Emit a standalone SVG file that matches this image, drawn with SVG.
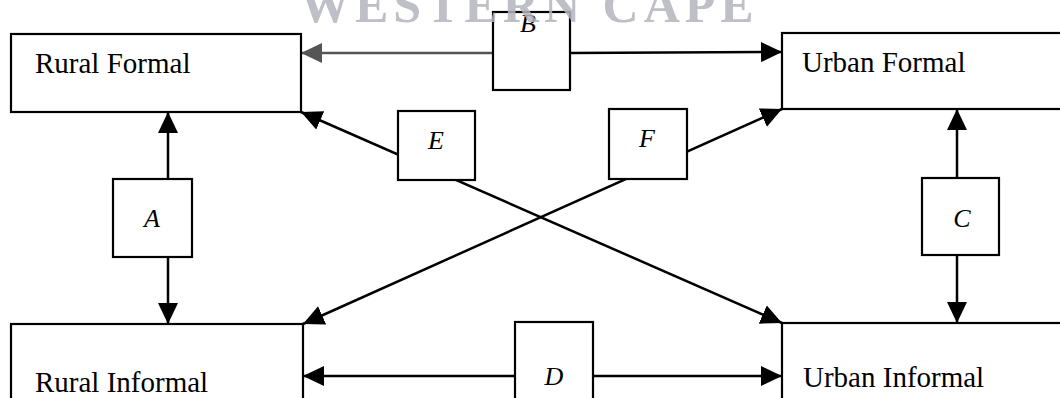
<svg xmlns="http://www.w3.org/2000/svg" width="1060" height="398" viewBox="0 0 1060 398">
  <style>
    .box { fill: #fff; stroke: #000; stroke-width: 2.2; }
    .lbl { fill: #fff; stroke: #000; stroke-width: 2.2; }
    .name { font-family: "Liberation Serif", "Times New Roman", serif; font-size: 29px; fill: #000; }
    .let { font-family: "Liberation Serif", "Times New Roman", serif; font-size: 26px; font-style: italic; fill: #000; text-anchor: middle; }
    .ln { stroke: #000; stroke-width: 2.5; fill: none; }
    .ln.gray { stroke: #555; }
    .wm { font-family: "Liberation Serif", "Times New Roman", serif; font-size: 50px; font-weight: bold; fill: #b4b4be; letter-spacing: 5px; opacity: 0.85; }
  </style>
  <defs>
    <marker id="ah" markerUnits="userSpaceOnUse" markerWidth="22" markerHeight="22" refX="21" refY="10" orient="auto-start-reverse" viewBox="0 0 22 20">
      <path d="M0,0 L21,10 L0,20 z" fill="#000"/>
    </marker>
    <marker id="ahg" markerUnits="userSpaceOnUse" markerWidth="22" markerHeight="22" refX="21" refY="10" orient="auto-start-reverse" viewBox="0 0 22 20">
      <path d="M0,0 L21,10 L0,20 z" fill="#555"/>
    </marker>
  </defs>
  <rect x="0" y="0" width="1060" height="398" fill="#fff"/>

  <g id="connectors">
    <line class="ln gray" x1="494" y1="53" x2="301" y2="53" marker-end="url(#ahg)"/>
    <line class="ln" x1="570" y1="53" x2="782" y2="52" marker-end="url(#ah)"/>
    <line class="ln" x1="168" y1="112" x2="168" y2="324" marker-start="url(#ah)" marker-end="url(#ah)"/>
    <line class="ln" x1="957" y1="109" x2="957" y2="323" marker-start="url(#ah)" marker-end="url(#ah)"/>
    <line class="ln" x1="303" y1="376" x2="782" y2="376" marker-start="url(#ah)" marker-end="url(#ah)"/>
    <line class="ln" x1="301" y1="112" x2="782" y2="323" marker-start="url(#ah)" marker-end="url(#ah)"/>
    <line class="ln" x1="303" y1="324" x2="782" y2="109" marker-start="url(#ah)" marker-end="url(#ah)"/>
  </g>

  <g id="rural-formal">
    <rect class="box" x="11" y="34" width="290" height="78"/>
    <text class="name" x="35" y="73">Rural Formal</text>
  </g>
  <g id="urban-formal">
    <rect class="box" x="782" y="33" width="290" height="76"/>
    <text class="name" x="802" y="72">Urban Formal</text>
  </g>
  <g id="rural-informal">
    <rect class="box" x="11" y="324" width="292" height="90"/>
    <text class="name" x="35" y="392">Rural Informal</text>
  </g>
  <g id="urban-informal">
    <rect class="box" x="782" y="323" width="290" height="90"/>
    <text class="name" x="803" y="387">Urban Informal</text>
  </g>

  <g id="label-a">
    <rect class="lbl" x="113" y="179" width="79" height="78"/>
    <text class="let" x="152" y="227">A</text>
  </g>
  <g id="label-b">
    <rect class="lbl" x="493" y="12" width="77" height="78"/>
    <text class="let" x="528" y="32">B</text>
  </g>
  <g id="label-c">
    <rect class="lbl" x="922" y="178" width="77" height="77"/>
    <text class="let" x="962" y="227">C</text>
  </g>
  <g id="label-d">
    <rect class="lbl" x="515" y="322" width="78" height="90"/>
    <text class="let" x="554" y="385">D</text>
  </g>
  <g id="label-e">
    <rect class="lbl" x="398" y="111" width="77" height="69"/>
    <text class="let" x="436" y="149">E</text>
  </g>
  <g id="label-f">
    <rect class="lbl" x="609" y="109" width="78" height="70"/>
    <text class="let" x="647" y="147">F</text>
  </g>

  <g id="watermark">
    <text class="wm" x="300" y="22">WESTERN CAPE</text>
  </g>
</svg>
